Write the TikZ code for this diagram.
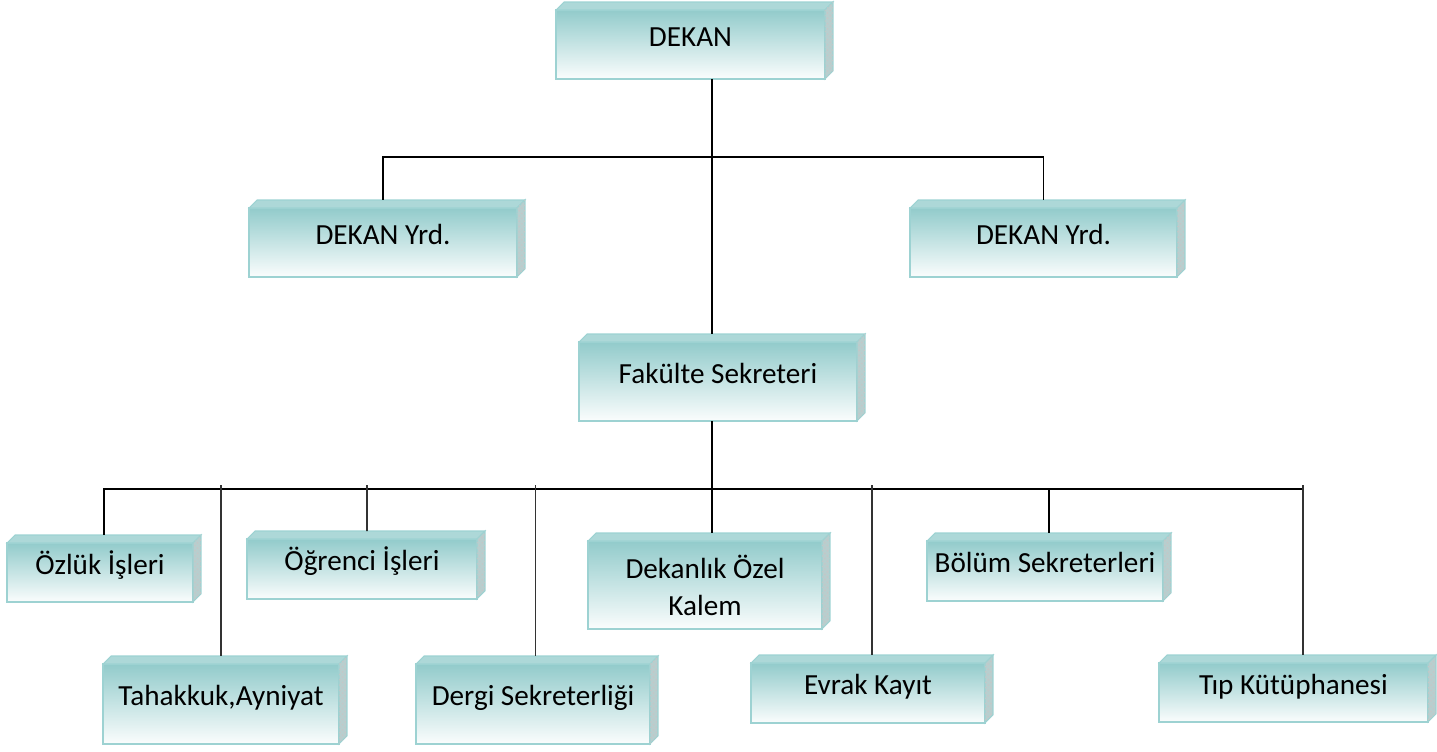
\documentclass[tikz,border=0pt]{standalone}
\usepackage{fontspec}
\setmainfont{Carlito}
\usetikzlibrary{patterns}

\definecolor{boxtop}{HTML}{92CBCB}
\definecolor{boxline}{HTML}{9DD2D2}
\definecolor{boxside}{HTML}{B8CECE}

\tikzset{
    unit/.style={draw=boxline, line width=0.8pt, top color=boxtop, bottom color=white!96!boxtop,
        inner sep=0pt, outer sep=0pt, font=\fontsize{16.6}{21}\selectfont,
        text height=0.4cm, text depth=0.34cm},
    wire/.style={line width=1.1pt, shorten >=0.16cm},
    drop/.style={line width=0.9pt, draw=black!80, shorten >=0.16cm, shorten <=-0.08cm},
    bevel/.style={fill=boxtop!75!white, draw=boxline, line width=0.6pt},
    flank/.style={fill=boxside, draw=boxline, line width=0.6pt,
        postaction={pattern=crosshatch dots, pattern color=white!55!gray}},
}

\begin{document}
\begin{tikzpicture}[x=0.02cm, y=-0.02cm]
    \useasboundingbox (0,0) rectangle (1437,751);

    % boxes
    \node[unit, minimum width=5.38cm, minimum height=1.38cm] (dekan) at (690.5,44.5) {DEKAN};
    \node[unit, minimum width=5.36cm, minimum height=1.38cm] (yrdl) at (383,242.5) {DEKAN Yrd.};
    \node[unit, minimum width=5.34cm, minimum height=1.38cm] (yrdr) at (1043.5,242.5) {DEKAN Yrd.};
    \node[unit, minimum width=5.56cm, minimum height=1.58cm] (sekreter) at (718,381.5) {Fakülte Sekreteri};
    \node[unit, minimum width=3.72cm, minimum height=1.18cm] (ozluk) at (100,572.5) {Özlük İşleri};
    \node[unit, minimum width=4.60cm, minimum height=1.20cm] (ogrenci) at (362,569) {Öğrenci İşleri};
    \node[unit, minimum width=4.68cm, minimum height=1.76cm, text height=, text depth=, align=center] (kalem) at (705,585) {Dekanlık Özel\\Kalem};
    \node[unit, minimum width=4.72cm, minimum height=1.20cm] (bolum) at (1045,571) {Bölüm Sekreterleri};
    \node[unit, minimum width=4.72cm, minimum height=1.60cm] (tahakkuk) at (221,704) {Tahakkuk,Ayniyat};
    \node[unit, minimum width=4.68cm, minimum height=1.60cm] (dergi) at (533,704) {Dergi Sekreterliği};
    \node[unit, minimum width=4.68cm, minimum height=1.20cm] (evrak) at (868,693) {Evrak Kayıt};
    \node[unit, minimum width=5.38cm, minimum height=1.18cm] (tip) at (1293.5,692.5) {Tıp Kütüphanesi};

    % 3d edges
    \foreach \n in {dekan,yrdl,yrdr,sekreter,ozluk,ogrenci,kalem,bolum,tahakkuk,dergi,evrak,tip}{
        \filldraw[bevel] (\n.north west) -- ++(8,-8) -- ([shift={(8,-8)}]\n.north east) -- (\n.north east) -- cycle;
        \filldraw[flank] (\n.north east) -- ++(8,-8) -- ([shift={(8,-8)}]\n.south east) -- (\n.south east) -- cycle;
    }

    % connectors
    \coordinate (trunk) at (712,0);
    \coordinate (ust) at (712,157);
    \coordinate (bus) at (712,489);
    \coordinate (tipx) at ([xshift=0.19cm]tip.north);
    \draw[wire] (dekan.south -| trunk) -- (sekreter.north -| trunk);
    \draw[wire] (ust) -| (yrdl.north);
    \draw[wire] (ust) -| (yrdr.north);
    \draw[wire, shorten >=0pt] (sekreter.south -| trunk) -- (bus);
    \draw[wire] (bus) -| ([xshift=0.08cm]ozluk.north);
    \draw[wire] (bus) -- (kalem.north -| trunk);
    \draw[wire] (bus) -| ([xshift=0.08cm]bolum.north);
    \draw[wire, shorten >=0pt] (bus) -- (bus -| tipx);

    \draw[drop] (bus -| tahakkuk.north) -- (tahakkuk.north);
    \draw[drop] (bus -| ogrenci.north) ++(5,0) -- ([xshift=0.1cm]ogrenci.north);
    \draw[drop] ([xshift=0.05cm]bus -| dergi.north) -- ([xshift=0.05cm]dergi.north);
    \draw[drop] ([xshift=0.08cm]bus -| evrak.north) -- ([xshift=0.08cm]evrak.north);
    \draw[drop] (bus -| tipx) -- (tipx);
\end{tikzpicture}
\end{document}
